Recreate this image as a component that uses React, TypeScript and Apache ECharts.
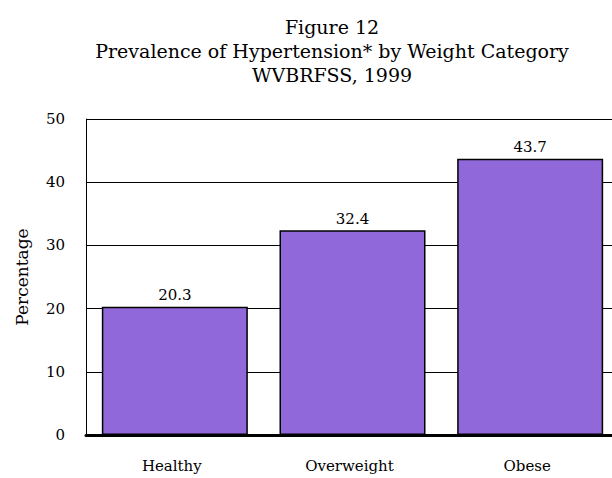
import React, { useEffect, useRef } from "react";
import * as echarts from "echarts";

const categories = ["Healthy", "Overweight", "Obese"];
const values = [20.3, 32.4, 43.7];
const titleLines = ["Figure 12", "Prevalence of Hypertension* by Weight Category", "WVBRFSS, 1999"];
const yAxisName = "Percentage";

export default function App() {
  const ref = useRef<HTMLDivElement>(null);
  useEffect(() => {
    const chart = echarts.init(ref.current!, null, { renderer: "svg" });
    const font = "'DejaVu Serif', 'Liberation Serif', serif";
    chart.setOption({
      animation: false,
      backgroundColor: "#fff",
      title: {
        text: titleLines.join("\n"),
        left: 327,
        textAlign: "center",
        top: 10,
        textStyle: { fontFamily: font, fontSize: 19, fontWeight: "normal", color: "#000", lineHeight: 24 },
      },
      grid: { left: 86, right: 1, top: 119, bottom: 43 },
      xAxis: {
        type: "category",
        data: categories,
        axisLine: { show: true, lineStyle: { color: "#000", width: 3 } },
        axisTick: { show: false },
        axisLabel: { fontFamily: font, fontSize: 15, color: "#000", margin: 23, padding: [0, 6, 0, 0] },
      },
      yAxis: {
        type: "value",
        min: 0,
        max: 50,
        interval: 10,
        name: yAxisName,
        nameLocation: "middle",
        nameGap: 56,
        nameTextStyle: { fontFamily: font, fontSize: 17, color: "#000" },
        axisLine: { show: true, lineStyle: { color: "#000", width: 1 } },
        axisTick: { show: false },
        axisLabel: { fontFamily: font, fontSize: 15, color: "#000", margin: 21 },
        splitLine: { show: true, lineStyle: { color: "#000", width: 1 } },
      },
      series: [
        {
          type: "bar",
          data: values,
          barWidth: 146,
          itemStyle: {
            color: "#9068da",
            borderColor: "#000",
            borderWidth: 1.5,
          },
          label: {
            show: true,
            position: "top",
            distance: 4,
            fontFamily: font,
            fontSize: 15,
            color: "#000",
          },
        },
      ],
    });
    return () => chart.dispose();
  }, []);
  return (
    <div style={{ position: "absolute", left: 0, top: 0, width: 612, height: 478, overflow: "hidden" }}>
      <div ref={ref} style={{ width: 620, height: 478 }} />
    </div>
  );
}
